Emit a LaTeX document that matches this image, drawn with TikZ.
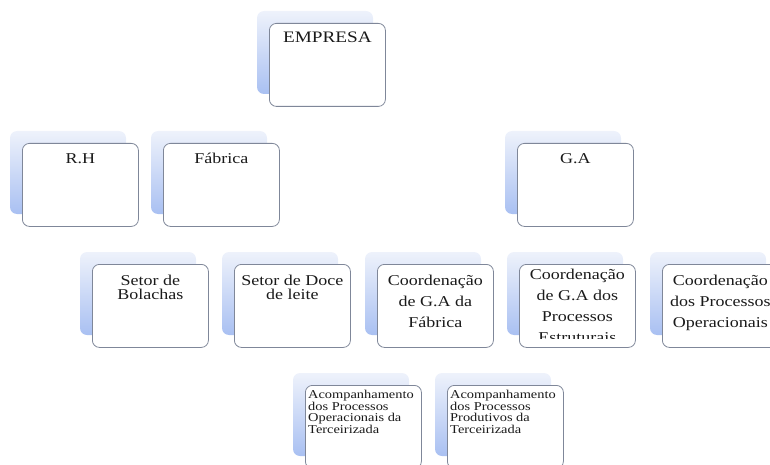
\documentclass[tikz,border=0pt]{standalone}
\usepackage{fontspec}
\setmainfont{Liberation Serif}
\newfontfamily\widefont[FakeStretch=1.2]{Liberation Serif}
\usepackage{xcolor}
\usepackage{tikz}
\usetikzlibrary{positioning}
\definecolor{shadetop}{HTML}{EEF2FB}
\definecolor{shadebot}{HTML}{A9C0F2}
\definecolor{edge}{HTML}{7F8799}
\definecolor{ink}{HTML}{1A1A1A}
\tikzset{
  back/.style={top color=shadetop, bottom color=shadebot, rounded corners=7pt, draw=none},
  card/.style={draw=edge, fill=white, line width=0.8pt, rounded corners=7pt, minimum width=116pt, minimum height=83pt, anchor=north west, inner sep=0pt},
  big/.style={text=ink, font={\widefont\fontsize{16}{18}\selectfont}, inner sep=0pt, anchor=north},
  lab/.style={text=ink, font={\widefont\fontsize{15}{14}\selectfont}, align=center, inner sep=0pt, anchor=north},
  labw/.style={lab, font={\widefont\fontsize{15}{21}\selectfont}},
  labs/.style={text=ink, font={\widefont\fontsize{12}{11.7}\selectfont}, align=left, inner sep=0pt, anchor=north west},
}

\begin{document}
\begin{tikzpicture}[x=1pt,y=-1pt]
  \clip (0,0) rectangle (770,465);
  % topo
  \path[back] (257,11) rectangle ++(116,83);
  \node[card] (emp) at (269,23) {};
  \node[big] (empt) at ([yshift=-9pt]emp.north) {EMPRESA};
  % segundo nivel
  \path[back] (10,131) rectangle ++(116,83);
  \node[card] (rh) at (22,143) {};
  \node[lab] (rht) at ([yshift=-10pt]rh.north) {R.H};
  \path[back] (151,131) rectangle ++(116,83);
  \node[card] (fab) at (163,143) {};
  \node[lab] (fabt) at ([yshift=-10pt]fab.north) {Fábrica};
  \path[back] (505,131) rectangle ++(116,83);
  \node[card] (ga) at (517,143) {};
  \node[lab] (gat) at ([yshift=-10pt]ga.north) {G.A};
  % terceiro nivel
  \path[back] (80,252) rectangle ++(116,83);
  \node[card] (bol) at (92,264) {};
  \node[lab] (bolt) at ([yshift=-11pt]bol.north) {Setor de\\Bolachas};
  \path[back] (222,252) rectangle ++(116,83);
  \node[card] (doce) at (234,264) {};
  \node[lab] (docet) at ([yshift=-11pt]doce.north) {Setor de Doce\\de leite};
  \path[back] (365,252) rectangle ++(116,83);
  \node[card] (cgaf) at (377,264) {};
  \node[labw] (cgaft) at ([yshift=-11pt]cgaf.north) {Coordenação\\de G.A da\\Fábrica};
  \path[back] (507,252) rectangle ++(116,83);
  \node[card] (cgae) at (519,264) {};
  \begin{scope}
    \clip (519,264) rectangle (635,338);
    \node[labw] (cgaet) at ([yshift=-5pt]cgae.north) {Coordenação\\de G.A dos\\Processos\\Estruturais};
  \end{scope}
  \path[back] (650,252) rectangle ++(116,83);
  \node[card] (cpo) at (662,264) {};
  \node[labw] (cpot) at ([yshift=-11pt]cpo.north) {Coordenação\\dos Processos\\Operacionais};
  % quarto nivel
  \path[back] (293,373) rectangle ++(116,83);
  \node[card] (aop) at (305,385) {};
  \node[labs] (aopt) at ([xshift=3pt,yshift=-5pt]aop.north west) {Acompanhamento\\dos Processos\\Operacionais da\\Terceirizada};
  \path[back] (435,373) rectangle ++(116,83);
  \node[card] (apr) at (447,385) {};
  \node[labs] (aprt) at ([xshift=3pt,yshift=-5pt]apr.north west) {Acompanhamento\\dos Processos\\Produtivos da\\Terceirizada};
\end{tikzpicture}
\end{document}
